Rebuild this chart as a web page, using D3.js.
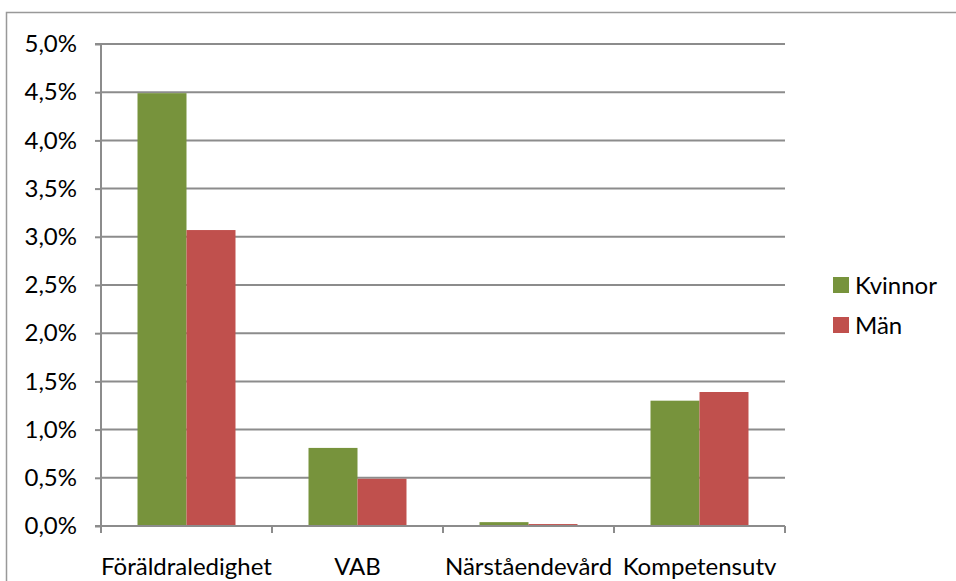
<!DOCTYPE html>
<html><head><meta charset="utf-8">
<script src="https://cdn.jsdelivr.net/npm/d3@7"></script>
<style>body{margin:0;background:#fff}svg{display:block}text{font-family:Lato,"Open Sans",sans-serif;fill:#000}</style>
</head><body><svg id="c" width="956" height="581"></svg>
<script>
const categories = ["Föräldraledighet","VAB","Närståendevård","Kompetensutv"];
const seriesNames = ["Kvinnor","Män"];
const kvinnor = [0.0449, 0.0081, 0.0004, 0.0130];
const man = [0.0307, 0.0049, 0.0002, 0.0139];
const colors = ["#77933C","#C0504D"];
const yTicks = [0,0.005,0.01,0.015,0.02,0.025,0.03,0.035,0.04,0.045,0.05];

(function(){
const svg = d3.select("#c");
const pLeft=101, pRight=785, pTop=44, pBottom=526;
const fs = 24;
svg.append("rect").attr("x",6.5).attr("y",12.5).attr("width",1000).attr("height",1000)
  .attr("fill","none").attr("stroke","#999").attr("stroke-width",1.5);

const x = d3.scaleBand().domain(categories).range([pLeft,pRight]).paddingInner(0).paddingOuter(0);
const y = d3.scaleLinear().domain([0,0.05]).range([pBottom,pTop]);
const x1 = d3.scaleBand().domain(seriesNames).range([0,x.bandwidth()]).paddingInner(0).paddingOuter(0.745);

const fmt = d => d3.format(".1f")(d*100).replace(".",",")+"%";

svg.append("g").selectAll("line").data(yTicks.slice(1)).join("line")
  .attr("x1",pLeft).attr("x2",pRight).attr("y1",d=>y(d)).attr("y2",d=>y(d))
  .attr("stroke","#8c8c8c").attr("stroke-width",2);

const data = [kvinnor, man];
categories.forEach((c,i)=>{
  seriesNames.forEach((s,j)=>{
    const v = data[j][i];
    svg.append("rect").attr("x",x(c)+x1(s)).attr("width",x1.bandwidth())
      .attr("y",y(v)).attr("height",y(0)-y(v)).attr("fill",colors[j]);
  });
});

const ya = d3.axisLeft(y).tickValues(yTicks).tickFormat(fmt).tickSize(6).tickPadding(6);
const yg = svg.append("g").attr("transform",`translate(${pLeft},0)`).call(ya);
yg.select(".domain").attr("stroke","#8c8c8c").attr("stroke-width",2).attr("d",`M-6,${pTop}H0V${pBottom}H-6`);
yg.selectAll(".tick line").attr("stroke","#8c8c8c").attr("stroke-width",2);
yg.selectAll(".tick text").attr("font-size",fs).style("font-family","Lato,sans-serif").attr("x",-24);

const xg = svg.append("g").attr("transform",`translate(0,${pBottom})`);
xg.append("line").attr("x1",pLeft).attr("x2",pRight).attr("stroke","#8c8c8c").attr("stroke-width",2);
const edges = categories.map(c=>x(c)).concat([pRight]);
xg.selectAll("line.t").data(edges).join("line").attr("class","t")
  .attr("x1",d=>d).attr("x2",d=>d).attr("y1",0).attr("y2",7).attr("stroke","#8c8c8c").attr("stroke-width",2);
xg.selectAll("text").data(categories).join("text")
  .attr("x",d=>x(d)+x.bandwidth()/2).attr("y",49).attr("text-anchor","middle")
  .attr("font-size",fs).text(d=>d);

const lg = svg.append("g");
seriesNames.forEach((s,j)=>{
  lg.append("rect").attr("x",833).attr("y",277+j*40).attr("width",16).attr("height",16).attr("fill",colors[j]);
  lg.append("text").attr("x",855).attr("y",294+j*40).attr("font-size",fs).text(s);
});
})();
</script></body></html>
